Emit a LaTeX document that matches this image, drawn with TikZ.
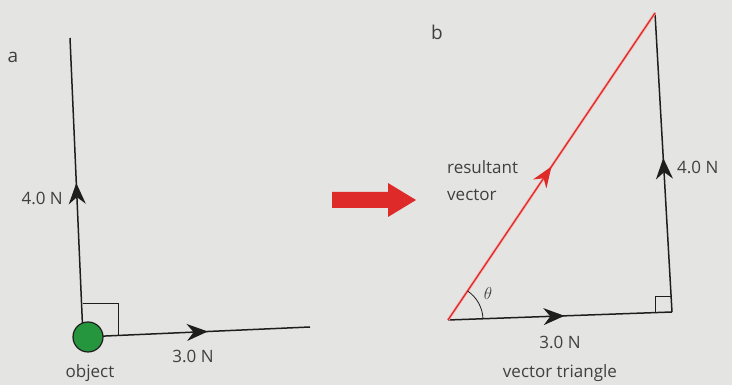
\documentclass[tikz,border=0pt]{standalone}
\usepackage{fontspec}
\setmainfont{Open Sans}
\usetikzlibrary{arrows.meta,decorations.markings}
\definecolor{bg}{RGB}{228,228,226}
\definecolor{objgreen}{RGB}{38,150,62}
\definecolor{vred}{RGB}{222,42,40}
\definecolor{ink}{RGB}{30,30,30}
\tikzset{
  vec/.style={draw=ink, line width=1.5pt, postaction={decorate},
    decoration={markings, mark=at position #1 with {\arrow{Stealth[length=21pt,width=17pt]}}}},
  vec/.default=0.52,
  resvec/.style={draw=vred, line width=1.3pt, postaction={decorate},
    decoration={markings, mark=at position #1 with {\arrow[vred]{Stealth[length=21pt,width=16pt]}}}},
  thinline/.style={draw=ink, line width=0.8pt},
  lbl/.style={font=\fontsize{17}{19}\selectfont, text=ink!85, inner sep=0pt},
}
\begin{document}
\begin{tikzpicture}[x=1pt,y=1pt]
\fill[bg] (0,0) rectangle (732,385);
\useasboundingbox (0,0) rectangle (732,385);
% ---- part a ----
\node[lbl, font=\fontsize{19}{20}\selectfont] (la) at (13,328) {a};
\coordinate (O) at (83,48);
\coordinate (Atop) at (70,347);
\coordinate (Aright) at (310,58);
\draw[vec=0.515] (O) -- (Atop);
\draw[vec=0.55] (O) -- (Aright);
\draw[thinline] (83,82) -- (118,82) -- (118,49);
\node[circle, fill=objgreen, draw=ink, line width=1.2pt, minimum size=30pt, inner sep=0pt] (obj) at (88,48) {};
\node[lbl, anchor=east] (fa) at (63,187) {4.0 N};
\node[lbl] (fb) at (193,29) {3.0 N};
\node[lbl] (ol) at (90,12) {object};
% ---- big red arrow ----
\fill[vred] (332,177) -- (388,177) -- (388,168) -- (416,185) -- (388,202) -- (388,193) -- (332,193) -- cycle;
% ---- part b ----
\node[lbl, font=\fontsize{19}{20}\selectfont] (lb) at (437,353) {b};
\coordinate (BL) at (448,65);
\coordinate (BR) at (672,73);
\coordinate (T) at (655,372);
\draw[vec=0.52] (BL) -- (BR);
\draw[vec=0.515] (BR) -- (T);
\draw[vred!35, line width=2.8pt] (BL) -- (T);
\draw[resvec=0.5] (BL) -- (T);
\draw[thinline] (655,72.4) -- (655,89) -- (671,89);
\draw[thinline] ([shift={(2:35)}]BL) arc[start angle=2, end angle=56, radius=35];
\node[lbl, font=\fontsize{17}{18}\selectfont] (th) at (488,91) {$\theta$};
\node[lbl, anchor=base west] (r1) at (447,211) {resultant};
\node[lbl, anchor=base west] (r2) at (447,184) {vector};
\node[lbl, anchor=base west] (f4) at (677,211) {4.0 N};
\node[lbl, anchor=base] (f3) at (560,36) {3.0 N};
\node[lbl, anchor=base] (vt) at (560,7) {vector triangle};
\end{tikzpicture}
\end{document}
